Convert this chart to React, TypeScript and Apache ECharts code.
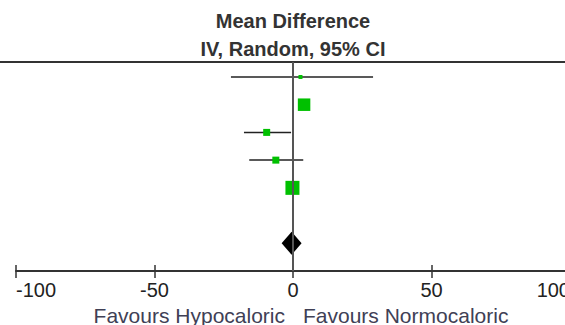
import React, { useEffect, useRef } from "react";
import * as echarts from "echarts";

// ---- data ----
const studyRows = [0, 1, 2, 3, 4];
const studyMeans = [2.7, 4.0, -9.5, -6.2, -0.2];
const ciLow = [-22.4, 2.0, -17.7, -15.8, -2.4];
const ciHigh = [28.9, 6.0, -0.7, 3.7, 2.0];
const weights = [3.4, 33.5, 10.5, 10.5, 42.1];
const pooledRow = 6;
const pooledMean = -0.5;
const pooledLow = -4.1;
const pooledHigh = 3.1;
const xTicks = [-100, -50, 0, 50, 100];
const titleLines = ["Mean Difference", "IV, Random, 95% CI"];
const favoursLeft = "Favours Hypocaloric";
const favoursRight = "Favours Normocaloric";

const FONT = "'Liberation Sans', Arial, sans-serif";

export default function App() {
  const ref = useRef<HTMLDivElement>(null);
  useEffect(() => {
    if (!ref.current) return;
    const chart = echarts.init(ref.current, undefined, { renderer: "svg" });
    const tickMin = xTicks[0];
    const tickMax = xTicks[xTicks.length - 1];
    const tickStep = xTicks[1] - xTicks[0];
    const option: any = {
      animation: false,
      grid: {
        left: 16,
        top: 62,
        width: 554,
        height: 209,
        containLabel: false,
        outerBoundsMode: "none",
      },
      xAxis: [
        {
          type: "value",
          min: tickMin,
          max: tickMax,
          interval: tickStep,
          position: "bottom",
          axisLine: { show: true, onZero: false, lineStyle: { color: "#333", width: 2 } },
          axisTick: { show: true, inside: false, length: 7, lineStyle: { color: "#333", width: 1.5 } },
          axisLabel: {
            show: true,
            margin: 9,
            fontSize: 20,
            fontFamily: FONT,
            color: "#222",
            alignMinLabel: "left",
            alignMaxLabel: "right",
          },
          splitLine: { show: false },
        },
        {
          type: "value",
          min: tickMin,
          max: tickMax,
          interval: tickStep,
          position: "top",
          offset: -209,
          axisLine: { show: false, onZero: false },
          axisTick: { show: true, inside: false, length: 6, lineStyle: { color: "#333", width: 1.5 } },
          axisLabel: { show: false },
          splitLine: { show: false },
        },
      ],
      yAxis: { type: "value", min: -0.54, max: 7.0, inverse: true, show: false },
      graphic: [
        {
          type: "text",
          x: 293,
          y: 7,
          style: {
            text: titleLines.join("\n"),
            font: `bold 20px ${FONT}`,
            fill: "#333",
            align: "center",
            verticalAlign: "top",
            lineHeight: 28,
          },
        },
        {
          type: "line",
          shape: { x1: 0, y1: 62, x2: 565, y2: 62 },
          style: { stroke: "#333", lineWidth: 2 },
        },
        {
          type: "text",
          x: 285,
          y: 315,
          style: {
            text: favoursLeft,
            font: `21px ${FONT}`,
            fill: "#404055",
            align: "right",
            verticalAlign: "middle",
          },
        },
        {
          type: "text",
          x: 303,
          y: 315,
          style: {
            text: favoursRight,
            font: `21px ${FONT}`,
            fill: "#404055",
            align: "left",
            verticalAlign: "middle",
          },
        },
      ],
      series: [
        {
          type: "custom",
          xAxisIndex: 0,
          encode: { x: [0, 1], y: 2 },
          data: studyRows.map((r, i) => [ciLow[i], ciHigh[i], r]),
          renderItem: (params: any, api: any) => {
            const a = api.coord([api.value(0), api.value(2)]);
            const b = api.coord([api.value(1), api.value(2)]);
            return {
              type: "line",
              shape: { x1: a[0], y1: a[1], x2: b[0], y2: b[1] },
              style: { stroke: "#222", lineWidth: 1.5 },
            };
          },
          markLine: {
            silent: true,
            symbol: "none",
            label: { show: false },
            lineStyle: { color: "#555", width: 2, type: "solid" },
            data: [{ xAxis: 0 }],
          },
          z: 2,
        },
        {
          type: "scatter",
          xAxisIndex: 0,
          data: studyRows.map((r, i) => [studyMeans[i], r, weights[i]]),
          symbol: "rect",
          symbolSize: (v: number[]) => 2.16 * Math.sqrt(v[2]),
          itemStyle: { color: "#00c000", opacity: 1 },
          z: 3,
        },
        {
          type: "custom",
          xAxisIndex: 0,
          encode: { x: [0, 1, 2], y: 3 },
          data: [[pooledLow, pooledHigh, pooledMean, pooledRow]],
          renderItem: (params: any, api: any) => {
            const y = api.value(3);
            const l = api.coord([api.value(0), y]);
            const h = api.coord([api.value(1), y]);
            const m = api.coord([api.value(2), y]);
            return {
              type: "polygon",
              shape: {
                points: [
                  [l[0], l[1]],
                  [m[0], m[1] - 11.5],
                  [h[0], h[1]],
                  [m[0], m[1] + 11.5],
                ],
              },
              style: { fill: "#000" },
            };
          },
          z: 4,
        },
      ],
    };
    chart.setOption(option);
    return () => chart.dispose();
  }, []);
  return (
    <div
      ref={ref}
      style={{ position: "fixed", left: 0, top: 0, width: 565, height: 325, background: "#fff" }}
    />
  );
}
